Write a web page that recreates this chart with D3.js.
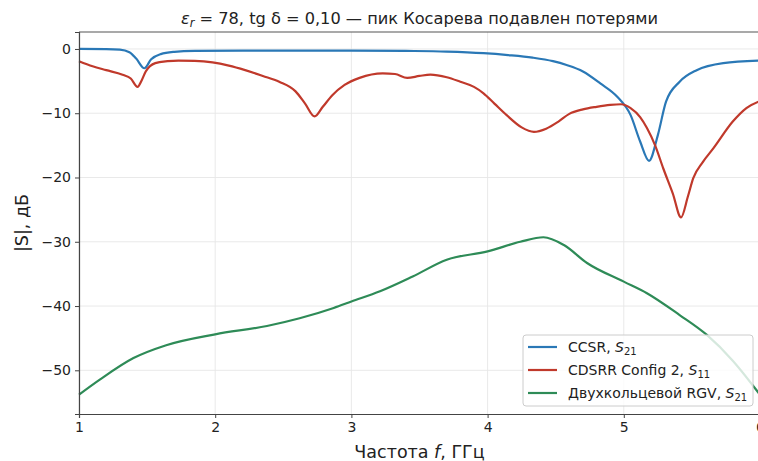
<!DOCTYPE html>
<html>
<head>
<meta charset="utf-8">
<script src="https://cdn.jsdelivr.net/npm/d3@7"></script>
<style>
  body { margin: 0; background: #fff; }
  svg { font-family: "DejaVu Sans", sans-serif; display: block; }
</style>
</head>
<body>
<div id="chart"></div>
<script>
// CCSR, S21
var ccsrF = [1.0, 1.2, 1.3, 1.37, 1.42, 1.48, 1.53, 1.6, 1.7, 1.85, 2.2, 2.6, 3.0, 3.4, 3.7, 3.97, 4.15, 4.33, 4.48, 4.58, 4.70, 4.83, 4.95, 5.05, 5.12, 5.185, 5.25, 5.31, 5.41, 5.535, 5.73, 6.0];
var ccsrDb = [0, -0.02, -0.1, -0.5, -1.5, -3.0, -1.6, -0.8, -0.45, -0.3, -0.25, -0.25, -0.25, -0.3, -0.4, -0.65, -0.95, -1.35, -1.9, -2.5, -3.5, -5.4, -7.4, -10.3, -14.4, -17.4, -13.4, -8.2, -5.1, -3.3, -2.2, -1.8];

// CDSRR Config 2, S11
var cdsrrF = [1.0, 1.1, 1.2, 1.32, 1.38, 1.43, 1.46, 1.49, 1.56, 1.65, 1.73, 1.85, 1.98, 2.1, 2.22, 2.35, 2.47, 2.59, 2.66, 2.73, 2.79, 2.86, 2.95, 3.06, 3.23, 3.32, 3.41, 3.5, 3.58, 3.7, 3.8, 3.9, 3.97, 4.05, 4.14, 4.25, 4.34, 4.43, 4.52, 4.6, 4.70, 4.8, 4.90, 4.98, 5.05, 5.12, 5.17, 5.23, 5.29, 5.36, 5.42, 5.47, 5.51, 5.58, 5.66, 5.80, 5.9, 6.0];
var cdsrrDb = [-1.9, -2.7, -3.3, -4.0, -4.6, -5.9, -4.9, -3.5, -2.2, -1.9, -1.8, -1.85, -2.1, -2.6, -3.3, -4.2, -5.1, -6.6, -8.5, -10.5, -9.0, -7.2, -5.6, -4.5, -3.8, -3.9, -4.5, -4.2, -4.0, -4.4, -5.1, -5.9, -6.9, -8.5, -10.3, -12.2, -12.9, -12.4, -11.3, -10.1, -9.4, -9.0, -8.7, -8.6, -9.2, -10.6, -12.3, -15.0, -18.6, -22.5, -26.2, -23.0, -20.1, -17.6, -15.4, -11.3, -9.2, -8.1];

// Двухкольцевой RGV, S21
var rgvF = [1.0, 1.15, 1.4, 1.64, 2.0, 2.38, 2.62, 2.87, 3.0, 3.21, 3.45, 3.70, 4.0, 4.24, 4.41, 4.56, 4.73, 5.0, 5.17, 5.41, 5.61, 5.8, 6.0];
var rgvDb = [-53.8, -51.5, -48.1, -46.1, -44.4, -43.1, -41.9, -40.3, -39.3, -37.7, -35.4, -32.8, -31.5, -30.0, -29.3, -30.5, -33.3, -36.2, -38.0, -41.4, -44.5, -48.5, -53.8];

var xTicks = [1, 2, 3, 4, 5, 6];
var yTicks = [0, -10, -20, -30, -40, -50];

var width = 758, height = 461;
var margin = {left: 79, top: 32, right: 760, bottom: 414};

var svg = d3.select('#chart').append('svg')
  .attr('width', width)
  .attr('height', height);

var x = d3.scaleLinear().domain([1, 6]).range([margin.left, margin.right]);
var y = d3.scaleLinear().domain([-56.8, 2.64]).range([margin.bottom, margin.top]);

// grid
svg.append('g').selectAll('line').data(xTicks).enter().append('line')
  .attr('x1', function(d) { return x(d); }).attr('x2', function(d) { return x(d); })
  .attr('y1', margin.top).attr('y2', margin.bottom)
  .style('stroke', '#e6e6e6').style('stroke-width', 0.9);
svg.append('g').selectAll('line').data(yTicks).enter().append('line')
  .attr('x1', margin.left).attr('x2', margin.right)
  .attr('y1', function(d) { return y(d); }).attr('y2', function(d) { return y(d); })
  .style('stroke', '#e6e6e6').style('stroke-width', 0.9);

var plot = svg.append('g');
var line = d3.line()
  .x(function(d) { return x(d[0]); })
  .y(function(d) { return y(d[1]); })
  .curve(d3.curveMonotoneX);

var series = [
  {f: ccsrF, v: ccsrDb, color: '#2a78b6'},
  {f: cdsrrF, v: cdsrrDb, color: '#c0392b'},
  {f: rgvF, v: rgvDb, color: '#2e8b57'}
];

series.forEach(function(s) {
  plot.append('path')
    .datum(d3.zip(s.f, s.v))
    .attr('d', line)
    .style('fill', 'none')
    .style('stroke', s.color)
    .style('stroke-width', 2.2);
});

// axes
var xAxis = svg.append('g')
  .attr('transform', 'translate(0,' + margin.bottom + ')')
  .call(d3.axisBottom(x).tickValues(xTicks).tickFormat(d3.format('d')).tickSize(4).tickPadding(4));
var yAxis = svg.append('g')
  .attr('transform', 'translate(' + margin.left + ',0)')
  .call(d3.axisLeft(y).tickValues(yTicks).tickFormat(function(d) { return d < 0 ? '\u2212' + Math.abs(d) : d; }).tickSize(4).tickPadding(4));
[xAxis, yAxis].forEach(function(a) {
  a.selectAll('text').style('font-size', '14px').style('fill', '#222').style('font-family', '"DejaVu Sans", sans-serif');
  a.selectAll('line').style('stroke', '#444');
  a.select('.domain').style('stroke', '#444').style('stroke-width', 1.2);
});
// top spine
svg.append('line')
  .attr('x1', margin.left).attr('x2', margin.right)
  .attr('y1', margin.top).attr('y2', margin.top)
  .style('stroke', '#555').style('stroke-width', 1.2);

// title
var title = svg.append('text')
  .attr('x', (margin.left + margin.right) / 2)
  .attr('y', 24)
  .attr('text-anchor', 'middle')
  .style('font-size', '16.2px')
  .style('fill', '#222');
title.append('tspan').style('font-style', 'italic').text('ε');
title.append('tspan').style('font-style', 'italic').style('font-size', '11.5px').attr('dy', 3).text('r');
title.append('tspan').attr('dy', -3).text(' = 78, tg δ = 0,10 — пик Косарева подавлен потерями');

// axis labels
var xl = svg.append('text')
  .attr('x', (margin.left + margin.right) / 2)
  .attr('y', 458)
  .attr('text-anchor', 'middle')
  .style('font-size', '17.5px')
  .style('fill', '#222');
xl.append('tspan').text('Частота ');
xl.append('tspan').style('font-style', 'italic').text('f');
xl.append('tspan').text(', ГГц');

svg.append('text')
  .attr('transform', 'translate(28,' + (margin.top + margin.bottom) / 2 + ') rotate(-90)')
  .attr('text-anchor', 'middle')
  .style('font-size', '17.5px')
  .style('fill', '#222')
  .text('|S|, дБ');

// legend
var legendNames = ['CCSR, ', 'CDSRR Config 2, ', 'Двухкольцевой RGV, '];
var legendSubs = ['21', '11', '21'];
var lg = svg.append('g');
lg.append('rect')
  .attr('x', 523).attr('y', 335).attr('width', 230).attr('height', 71)
  .attr('rx', 3)
  .style('fill', 'rgba(255,255,255,0.8)')
  .style('stroke', '#cccccc');
legendNames.forEach(function(name, i) {
  var ly = 347 + i * 23;
  lg.append('line')
    .attr('x1', 528).attr('x2', 557).attr('y1', ly).attr('y2', ly)
    .style('stroke', series[i].color).style('stroke-width', 2.2);
  var t = lg.append('text')
    .attr('x', 568).attr('y', ly + 5)
    .style('font-size', '14px')
    .style('fill', '#222');
  t.append('tspan').text(name);
  t.append('tspan').style('font-style', 'italic').text('S');
  t.append('tspan').attr('dy', 3).style('font-size', '10px').text(legendSubs[i]);
});
</script>
</body>
</html>
